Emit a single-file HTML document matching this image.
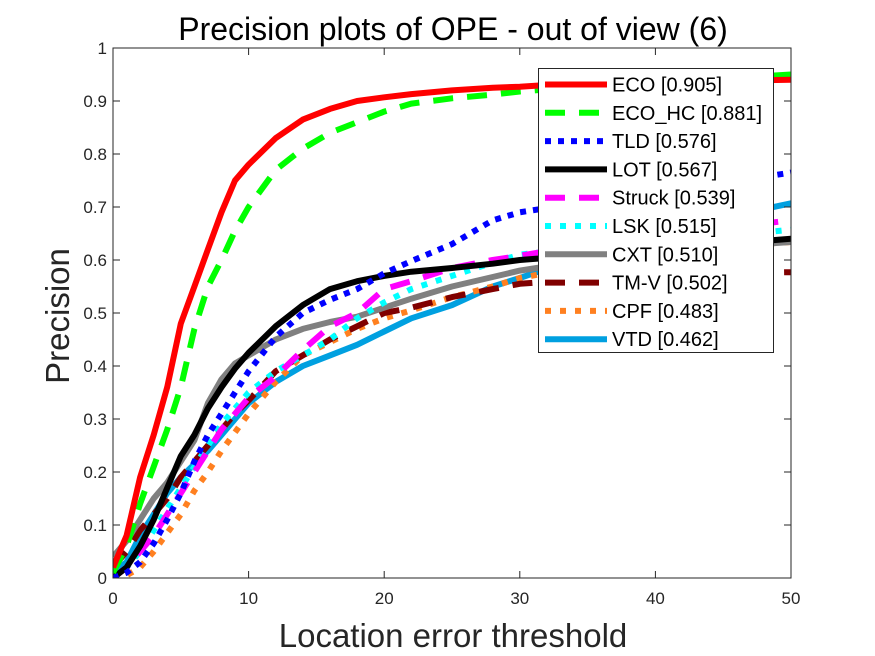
<!DOCTYPE html>
<html><head><meta charset="utf-8"><style>
html,body{margin:0;padding:0;background:#fff;width:875px;height:656px;overflow:hidden}
text{font-family:"Liberation Sans",Arial,sans-serif}
</style></head><body>
<svg id="chart" width="875" height="656" xmlns="http://www.w3.org/2000/svg">
<rect width="875" height="656" fill="#fff"/>
<defs><clipPath id="clip"><rect x="113" y="48" width="678" height="530"/></clipPath></defs>
<g id="grid"></g>
<g id="series" clip-path="url(#clip)"></g>
<g id="axes"></g>
<g id="legend"></g>
</svg>
<script>
const thresholds=[0,1,2,3,4,5,6,7,8,9,10,12,14,16,18,20,22,25,28,30,35,40,45,50];
const names=["ECO [0.905]","ECO_HC [0.881]","TLD [0.576]","LOT [0.567]","Struck [0.539]","LSK [0.515]","CXT [0.510]","TM-V [0.502]","CPF [0.483]","VTD [0.462]"];
const eco=[.02,.08,.19,.27,.36,.48,.55,.62,.69,.75,.78,.83,.865,.885,.9,.907,.913,.92,.925,.927,.935,.937,.938,.94];
const ecoHc=[.01,.06,.14,.21,.28,.36,.47,.55,.6,.655,.7,.77,.81,.84,.86,.88,.895,.905,.912,.918,.928,.935,.942,.95];
const tld=[0,.01,.03,.065,.11,.16,.22,.27,.31,.35,.39,.455,.5,.525,.545,.575,.598,.63,.675,.69,.71,.73,.745,.765];
const lot=[0,.02,.06,.11,.17,.23,.27,.32,.36,.395,.425,.475,.515,.545,.56,.57,.578,.585,.593,.6,.61,.62,.63,.64];
const struck=[0,.02,.05,.08,.12,.16,.2,.24,.28,.31,.34,.38,.43,.475,.5,.545,.56,.585,.6,.608,.63,.645,.66,.675];
const lsk=[0,.02,.05,.09,.13,.17,.21,.25,.29,.32,.35,.39,.42,.45,.49,.52,.545,.57,.595,.61,.625,.635,.645,.657];
const cxt=[.04,.07,.11,.15,.18,.22,.26,.33,.375,.405,.42,.45,.47,.483,.493,.51,.527,.55,.568,.58,.6,.615,.625,.634];
const tmv=[.02,.05,.09,.12,.15,.19,.22,.25,.28,.31,.335,.39,.42,.45,.475,.5,.51,.53,.545,.555,.565,.57,.575,.577];
const cpf=[0,.005,.02,.05,.085,.12,.165,.2,.24,.275,.31,.37,.42,.445,.47,.49,.505,.53,.55,.566,.59,.61,.625,.634];
const vtd=[.01,.03,.08,.12,.16,.19,.215,.24,.27,.3,.33,.37,.4,.42,.44,.465,.49,.515,.55,.566,.61,.65,.68,.707];
const xTicks=[0,10,20,30,40,50];
const yTicks=[0,0.1,0.2,0.3,0.4,0.5,0.6,0.7,0.8,0.9,1];
const yTickLabels=["0","0.1","0.2","0.3","0.4","0.5","0.6","0.7","0.8","0.9","1"];

const NS="http://www.w3.org/2000/svg";
const X0=113,X1=791,Y0=578,Y1=48;
const xs=v=>X0+(v/50)*(X1-X0);
const ys=v=>Y0-v*(Y0-Y1);
function mk(tag,attrs,parent){const e=document.createElementNS(NS,tag);for(const k in attrs)e.setAttribute(k,attrs[k]);parent.appendChild(e);return e;}
const series=[eco,ecoHc,tld,lot,struck,lsk,cxt,tmv,cpf,vtd];
const styles=[
 {c:"#ff0000",d:""},{c:"#00ff00",d:"20,14"},{c:"#0000ff",d:"6,7"},{c:"#000000",d:""},
 {c:"#ff00ff",d:"20,14"},{c:"#00ffff",d:"6,9"},{c:"#808080",d:""},{c:"#800000",d:"20,14"},
 {c:"#ff8020",d:"6,9"},{c:"#00a0e0",d:""}];
const keys=["eco","eco-hc","tld","lot","struck","lsk","cxt","tm-v","cpf","vtd"];
const sg=document.getElementById('series');
for(let i=series.length-1;i>=0;i--){
 const pts=thresholds.map((t,j)=>xs(t).toFixed(1)+","+ys(series[i][j]).toFixed(1)).join(" ");
 const p=mk('polyline',{points:pts,fill:"none",stroke:styles[i].c,"stroke-width":6,"stroke-dasharray":styles[i].d,"stroke-linejoin":"round"},sg);
 
 
}
const ax=document.getElementById('axes');
const box=mk('rect',{x:X0,y:Y1,width:X1-X0,height:Y0-Y1,fill:"none",stroke:"#262626","stroke-width":1},ax);


xTicks.forEach(t=>{
 const x=xs(t);
 mk('line',{x1:x,x2:x,y1:Y0,y2:Y0-7,stroke:"#262626"},ax);
 mk('line',{x1:x,x2:x,y1:Y1,y2:Y1+7,stroke:"#262626"},ax);
 const tx=mk('text',{x:x,y:Y0+26,"text-anchor":"middle","font-size":17,fill:"#262626"},ax);
 tx.textContent=t;
 
 
});
yTicks.forEach((t,i)=>{
 const y=ys(t);
 mk('line',{x1:X0,x2:X0+7,y1:y,y2:y,stroke:"#262626"},ax);
 mk('line',{x1:X1,x2:X1-7,y1:y,y2:y,stroke:"#262626"},ax);
 const tx=mk('text',{x:X0-6,y:y+6,"text-anchor":"end","font-size":17,fill:"#262626"},ax);
 tx.textContent=yTickLabels[i];
 
 
});
const title=mk('text',{x:453,y:40,"text-anchor":"middle","font-size":32,fill:"#000"},ax);
title.textContent="Precision plots of OPE - out of view (6)";


const xl=mk('text',{x:453,y:647,"text-anchor":"middle","font-size":33,fill:"#262626"},ax);
xl.textContent="Location error threshold";


const yl=mk('text',{x:0,y:0,"text-anchor":"middle","font-size":33,fill:"#262626",transform:"translate(69,316) rotate(-90)"},ax);
yl.textContent="Precision";


const lg=document.getElementById('legend');
const lb=mk('rect',{x:538.5,y:68.5,width:235,height:284,fill:"#fff",stroke:"#262626","stroke-width":1},lg);


names.forEach((n,i)=>{
 const y=84.5+i*28.3;
 const l=mk('line',{x1:545,x2:607,y1:y,y2:y,stroke:styles[i].c,"stroke-width":6,"stroke-dasharray":styles[i].d},lg);
 
 
 const t=mk('text',{x:612,y:y+7,"font-size":20,fill:"#000"},lg);
 t.textContent=n;
 
 
});
</script>
</body></html>
